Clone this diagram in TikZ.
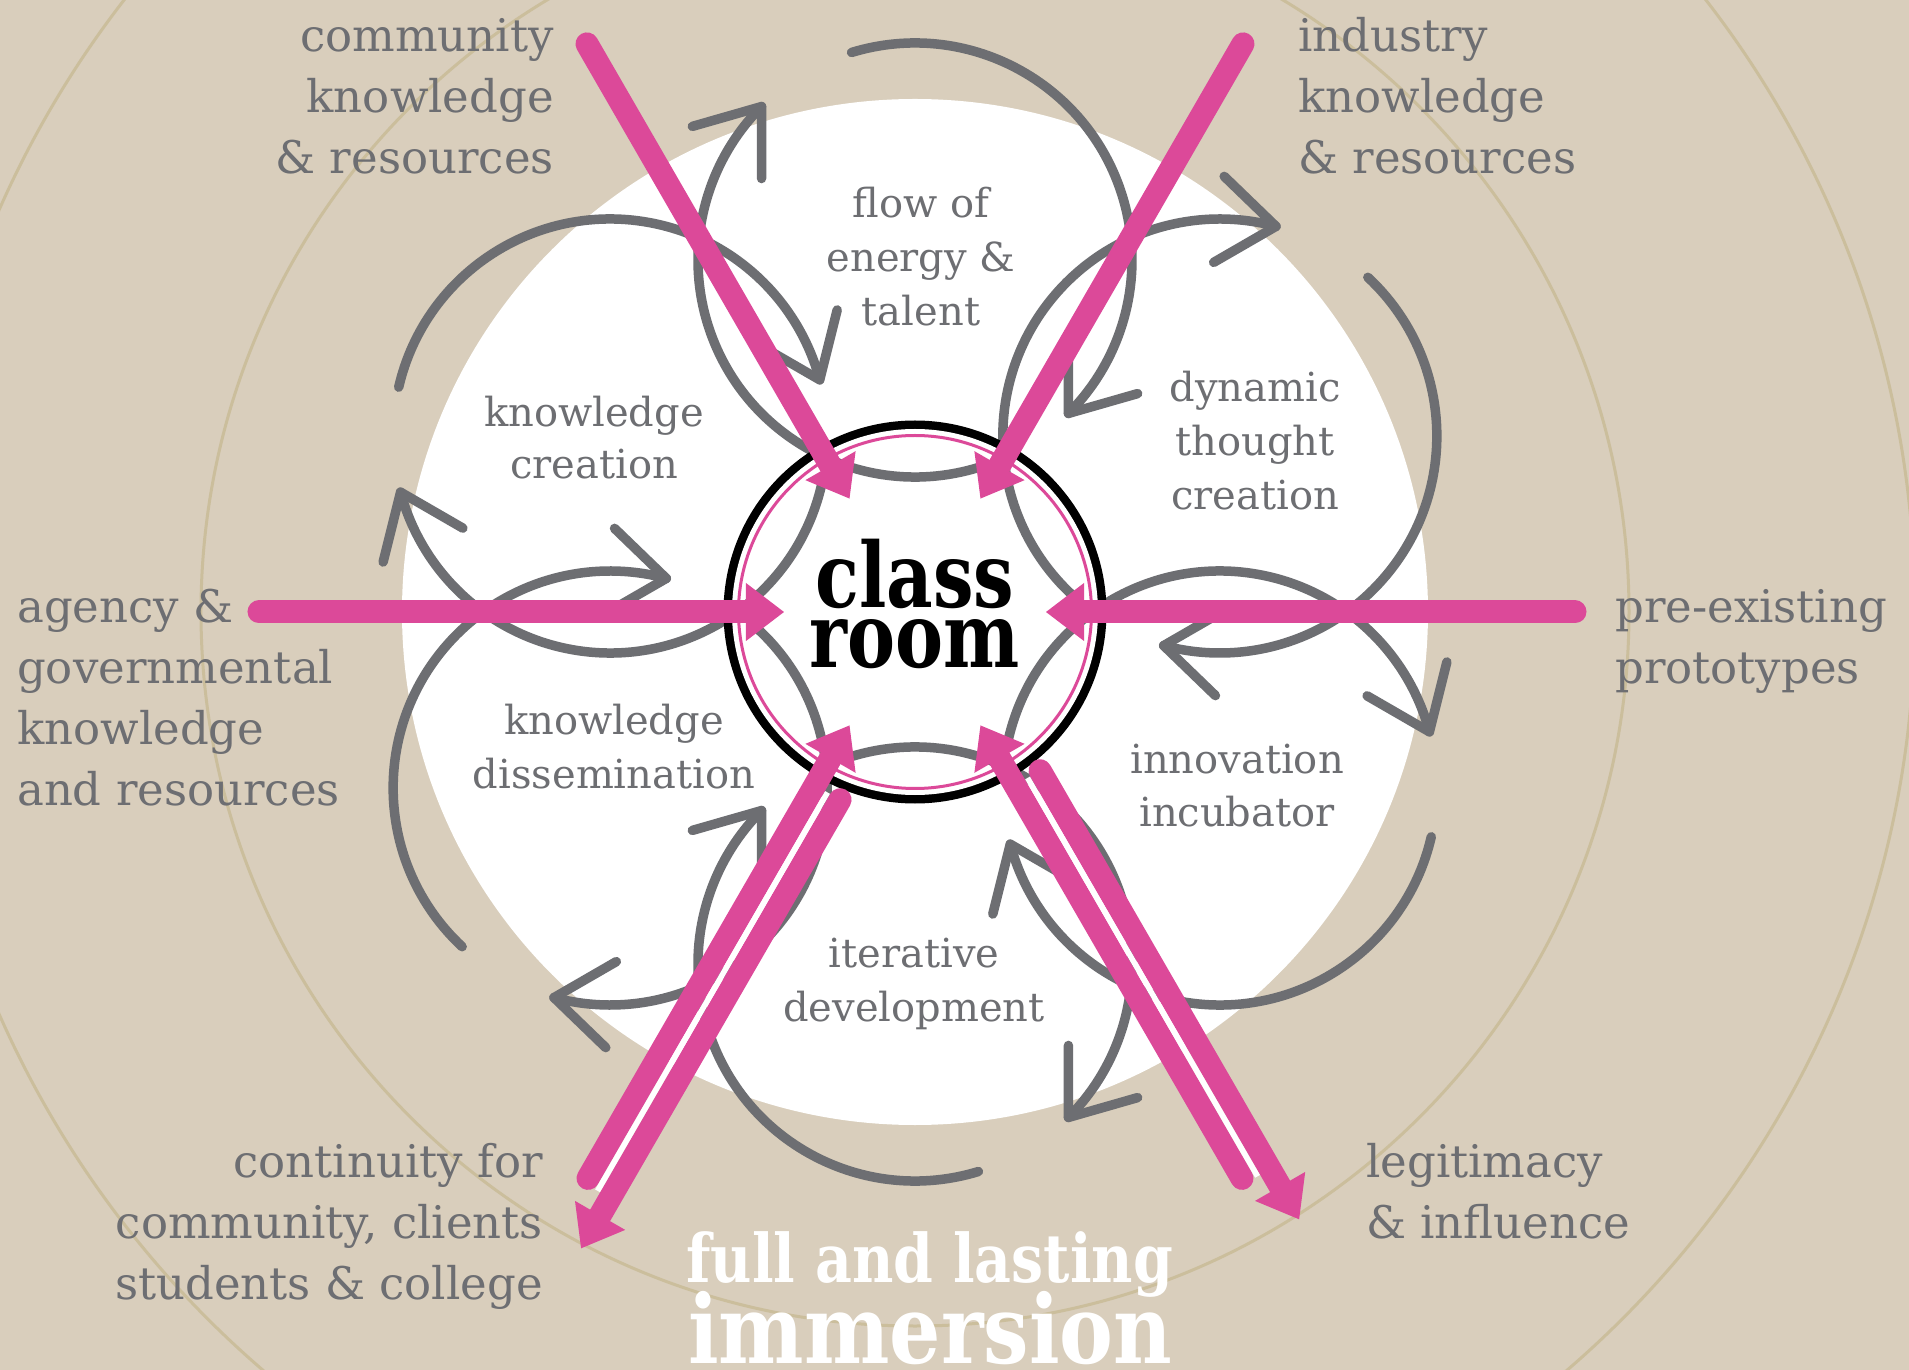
\documentclass[tikz,border=0pt]{standalone}
\usepackage{fontspec}
\setmainfont{DejaVu Serif}
\newfontfamily\condserif{DejaVu Serif}[FakeStretch=0.8]
\newfontfamily\immserif{DejaVu Serif}[FakeStretch=0.85]
\usetikzlibrary{arrows.meta,calc}
\definecolor{beige}{RGB}{217,206,188}
\definecolor{ringtan}{RGB}{203,190,156}
\definecolor{cgray}{RGB}{109,110,114}
\definecolor{cpink}{RGB}{220,73,153}
\newcommand\mylines[2]{\begin{tabular}[t]{@{}#1@{}}#2\end{tabular}}
\begin{document}
\begin{tikzpicture}[x=1pt,y=1pt,
  cyc/.style={draw=cgray, line width=9.5pt, line cap=round, line join=round},
  pk/.style={draw=cpink, line width=23pt, line cap=round, -{Triangle[length=38pt,width=58pt,line width=0pt]}},
  outerlbl/.style={inner sep=0pt, text=cgray, font=\fontsize{45}{61}\selectfont},
  innerlbl/.style={inner sep=0pt, text=cgray, font=\fontsize{40}{54}\selectfont},
  bigwhite/.style={inner sep=0pt, text=white, anchor=base west}
]
\useasboundingbox (-915,-758) rectangle (994,612);
\fill[beige] (-915,-758) rectangle (994,612);
\draw[ringtan, line width=3pt] (0,0) circle[radius=714];
\draw[ringtan, line width=3pt] (0,0) circle[radius=1000];
\fill[white] (0,0) circle[radius=513];

% gray cycles
\foreach \k in {0,...,5}{
  \pgfmathsetmacro\ph{90-60*\k}
  \pgfmathsetmacro\sa{\ph+17}
  \pgfmathsetmacro\ea{\ph-135}
  \pgfmathsetmacro\sb{\ph-163}
  \pgfmathsetmacro\eb{\ph-315}
  \coordinate (cc\k) at (\ph:352);
  \draw[cyc] ($(cc\k)+(\sa:217)$) arc[start angle=\sa, end angle=\ea, radius=217];
  \draw[cyc] ($(cc\k)+(\ea:217)$) coordinate (tipa) ++(\ea+61:72) -- (tipa) -- ++(\ea+135:72);
  \draw[cyc] ($(cc\k)+(\sb:217)$) arc[start angle=\sb, end angle=\eb, radius=217];
  \draw[cyc] ($(cc\k)+(\eb:217)$) coordinate (tipb) ++(\eb+61:72) -- (tipb) -- ++(\eb+135:72);
}

% classroom ring
\draw[black, line width=9pt] (0,0) circle[radius=187];
\draw[white, line width=5pt] (0,0) circle[radius=180.5];
\draw[cpink, line width=3pt] (0,0) circle[radius=176.5];
\node[circle, minimum size=262pt, inner sep=0pt, outer sep=0pt] (hub) at (0,0) {};

% pink arrows
\coordinate (tUL) at (120:656);
\coordinate (tUR) at (60:656);
\coordinate (tL) at (180:656);
\coordinate (tR) at (0:660);
\coordinate (tLL) at (240:654);
\coordinate (tLR) at (300:654);
\coordinate (oLLs) at ($(240:200)+(-30:29)$);
\coordinate (oLLe) at ($(240:718)+(-30:29)$);
\coordinate (oLRs) at ($(300:200)+(30:29)$);
\coordinate (oLRe) at ($(300:718)+(30:29)$);
\draw[pk] (tUL) -- (hub);
\draw[pk] (tUR) -- (hub);
\draw[pk] (tL) -- (hub);
\draw[pk] (tR) -- (hub);
\draw[pk] (tLL) -- (hub);
\draw[pk] (tLR) -- (hub);
\draw[pk] (oLLs) -- (oLLe);
\draw[pk] (oLRs) -- (oLRe);
\draw[white, line width=5.5pt] ($(240:200)+(-30:14.5)$) -- ($(240:660)+(-30:14.5)$);
\draw[white, line width=5.5pt] ($(300:200)+(30:14.5)$) -- ($(300:660)+(30:14.5)$);

% classroom text
\node[inner sep=0pt, anchor=base, font=\condserif\bfseries\fontsize{90}{60}\selectfont] (cls) at (0,4) {class};
\node[inner sep=0pt, anchor=base, font=\condserif\bfseries\fontsize{90}{60}\selectfont] (rm) at (0,-56) {room};

% inner labels
\node[innerlbl, anchor=base] (flow) at (6,394) {\mylines{c}{flow of\\energy \&\\talent}};
\node[innerlbl, anchor=base, font=\fontsize{40}{52}\selectfont] (kcre) at (-321,185) {\mylines{c}{knowledge\\creation}};
\node[innerlbl, anchor=base] (dyn) at (340,210) {\mylines{c}{dynamic\\thought\\creation}};
\node[innerlbl, anchor=base] (inno) at (322,-161) {\mylines{c}{innovation\\incubator}};
\node[innerlbl, anchor=base] (iter) at (-1,-355) {\mylines{c}{iterative\\development}};
\node[innerlbl, anchor=base] (kdis) at (-301,-123) {\mylines{c}{knowledge\\dissemination}};

% outer labels
\node[outerlbl, anchor=base east] (comm) at (-361,560) {\mylines{r}{community\\knowledge\\\& resources}};
\node[outerlbl, anchor=base west] (ind) at (383,560) {\mylines{l}{industry\\knowledge\\\& resources}};
\node[outerlbl, anchor=base west] (agency) at (-898,-11) {\mylines{l}{agency \&\\governmental\\knowledge\\and resources}};
\node[outerlbl, anchor=base west] (proto) at (700,-11) {\mylines{l}{pre-existing\\prototypes}};
\node[outerlbl, anchor=base east] (cont) at (-372,-565) {\mylines{r}{continuity for\\community, clients\\students \& college}};
\node[outerlbl, anchor=base west] (legit) at (451,-565) {\mylines{l}{legitimacy\\\& influence}};

% immersion
\node[bigwhite, font=\immserif\bfseries\fontsize{67}{70}\selectfont] (full) at (-229,-670) {full and lasting};
\node[bigwhite, font=\immserif\bfseries\fontsize{95}{100}\selectfont] (imm) at (-227,-751) {immersion};
\end{tikzpicture}
\end{document}
